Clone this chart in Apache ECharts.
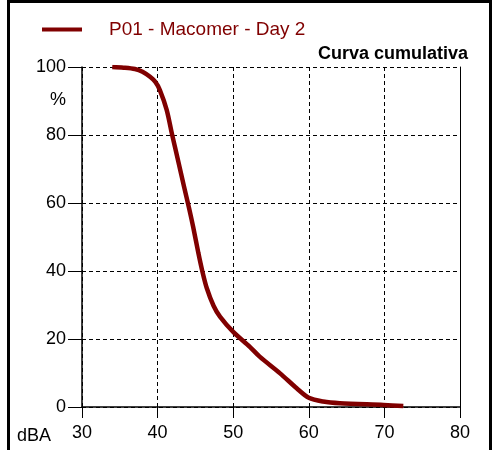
<!DOCTYPE html>
<html><head><meta charset="utf-8">
<script src="https://cdn.jsdelivr.net/npm/echarts@6/dist/echarts.min.js"></script>
<style>html,body{margin:0;padding:0;background:#fff}#c{width:493px;height:450px}</style>
</head><body><div id="c"></div>
<script>
const seriesName = 'P01 - Macomer - Day 2';
const chartTitle = 'Curva cumulativa';
const dba = [34, 35.5, 37, 38, 39, 39.7, 40.3, 41.2, 41.9, 42.7, 43.5, 44.15, 44.7, 45.4, 45.9, 46.5, 47.4, 48.25, 50, 52.2, 53.5, 56.2, 58.4, 60, 61.9, 64.1, 69.9, 72.5];
const pct = [100, 99.8, 99.4, 98.6, 97.1, 95.6, 93.2, 87.4, 80.3, 72.6, 64.8, 58.6, 53, 45.2, 40.1, 35, 29.8, 26.6, 22.1, 17.7, 14.8, 9.9, 5.5, 2.7, 1.6, 1.1, 0.6, 0.3];
const xTicks = [30, 40, 50, 60, 70, 80];
const yTicks = [0, 20, 40, 60, 80, 100];
const red = '#800000';
const chart = echarts.init(document.getElementById('c'), null, {renderer:'canvas'});
const font = '"Liberation Sans", Arial, sans-serif';
chart.setOption({
  animation:false,
  backgroundColor:'#fff',
  title:{text:chartTitle, right:20, top:40, textStyle:{fontFamily:font, fontSize:18, fontWeight:'bold', color:'#000'}},
  legend:{left:37, top:15, icon:'rect', itemWidth:40, itemHeight:4,
    textStyle:{fontFamily:font, fontSize:19, color:red, padding:[0,0,0,22]},
    data:[seriesName]},
  grid:{left:82, right:33, top:67, bottom:43},
  xAxis:{type:'value', min:xTicks[0], max:xTicks[xTicks.length-1], interval:10,
    axisLine:{lineStyle:{color:'#000', width:1.5}},
    axisTick:{show:true, length:11, lineStyle:{color:'#000'}},
    axisLabel:{fontFamily:font, fontSize:18, color:'#000', margin:17},
    splitLine:{show:true, lineStyle:{color:'#000', type:[4,3], width:1}}},
  yAxis:[{type:'value', min:yTicks[0], max:yTicks[yTicks.length-1], interval:20,
    axisLine:{show:true, lineStyle:{color:'#000', width:1.5}},
    axisTick:{show:true, length:14, lineStyle:{color:'#000'}},
    axisLabel:{fontFamily:font, fontSize:18, color:'#000', margin:16},
    splitLine:{show:true, lineStyle:{color:'#000', type:[4,3], width:1}}},
    {type:'value', position:'right', min:0, max:100, interval:20,
    axisLine:{show:true, lineStyle:{color:'#000', width:1}}, axisTick:{show:false}, axisLabel:{show:false}, splitLine:{show:false}}],
  series:[{name:seriesName, type:'line', data:dba.map((v,i)=>[v,pct[i]]), smooth:0.3, symbol:'none',
    lineStyle:{color:red, width:4.5}, itemStyle:{color:red}}],
  graphic:[
    {type:'rect', shape:{x:8.5, y:1.5, width:482, height:460}, style:{fill:null, stroke:'#000', lineWidth:3}, silent:true},
    {type:'text', left:50, top:91, style:{text:'%', font:'18px "Liberation Sans", Arial, sans-serif', fill:'#000'}},
    {type:'text', left:17, top:427, style:{text:'dBA', font:'18px "Liberation Sans", Arial, sans-serif', fill:'#000'}}
  ]
});
</script></body></html>
